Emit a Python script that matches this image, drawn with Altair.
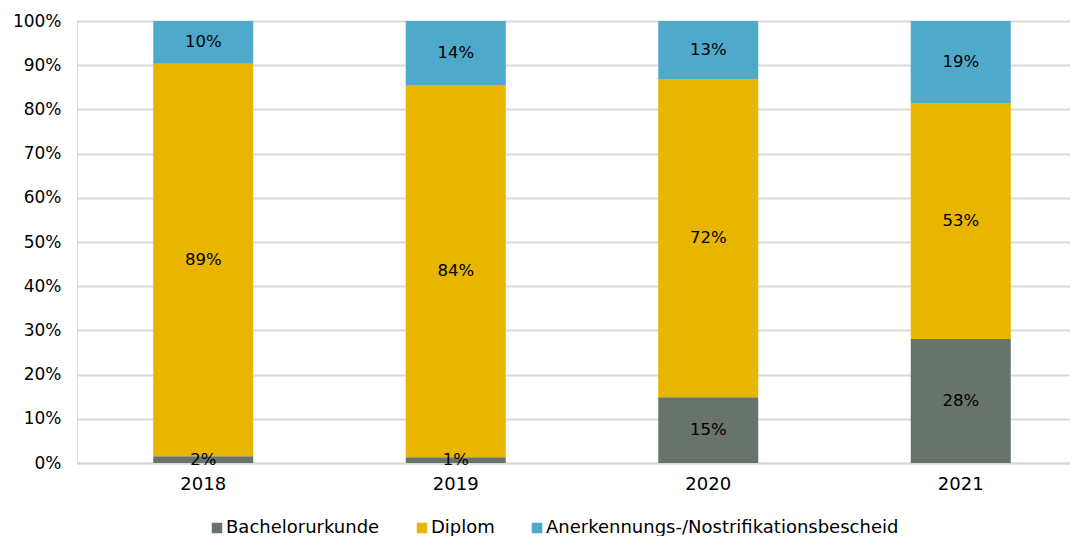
import altair as alt
import pandas as pd

years = ["2018", "2019", "2020", "2021"]
series = ["Bachelorurkunde", "Diplom", "Anerkennungs-/Nostrifikationsbescheid"]
bachelor = [0.015, 0.013, 0.149, 0.2805]
diplom = [0.888, 0.842, 0.720, 0.534]
anerkennung = [0.097, 0.145, 0.131, 0.1855]
label_bachelor = ["2%", "1%", "15%", "28%"]
label_diplom = ["89%", "84%", "72%", "53%"]
label_anerkennung = ["10%", "14%", "13%", "19%"]
colors = ["#68736B", "#E8B500", "#4FA9CB"]
y_ticks = [0, 0.1, 0.2, 0.3, 0.4, 0.5, 0.6, 0.7, 0.8, 0.9, 1.0]

rows = []
for i, y in enumerate(years):
    for k, (vals, labs) in enumerate([(bachelor, label_bachelor), (diplom, label_diplom), (anerkennung, label_anerkennung)]):
        rows.append({"year": y, "series": series[k], "order": k, "value": vals[i], "label": labs[i]})
df = pd.DataFrame(rows)

FONT = "DejaVu Sans"

base = alt.Chart(df).transform_stack(
    stack="value", groupby=["year"], as_=["y0", "y1"], sort=[alt.SortField("order", order="ascending")]
).transform_calculate(mid="(datum.y0 + datum.y1) / 2")

xscale = alt.Scale(range=[0, 1010], paddingInner=0.604, paddingOuter=0.302)
yscale = alt.Scale(domain=[0, 1], nice=False)
xaxis = alt.Axis(labelAngle=0, ticks=False, domain=True, domainColor="#d9d9d9", domainWidth=2,
                 labelFont=FONT, labelFontSize=18, labelColor="#000000", labelPadding=12)
yaxis = alt.Axis(format=".0%", values=y_ticks, ticks=False, domain=False, labelOverlap=False,
                 grid=True, gridColor="#d9d9d9", gridWidth=2,
                 labelFont=FONT, labelFontSize=17, labelColor="#000000", labelPadding=16)

bars = base.mark_bar().encode(
    x=alt.X("year:N", title=None, scale=xscale, axis=xaxis),
    y=alt.Y("y0:Q", title=None, scale=yscale, axis=yaxis),
    y2="y1:Q",
    color=alt.Color("series:N", sort=series,
                    scale=alt.Scale(domain=series, range=colors),
                    legend=alt.Legend(title=None, orient="none", legendX=131, legendY=498, direction="horizontal",
                                      symbolType="square", symbolSize=110, symbolStrokeWidth=0,
                                      labelFont=FONT, labelFontSize=18, labelColor="#000000",
                                      columnPadding=33, labelOffset=0, labelLimit=0)),
    order=alt.Order("order:Q"),
)

text = base.mark_text(font=FONT, fontSize=16.5, color="#000000", baseline="middle").encode(
    x=alt.X("year:N", title=None, scale=xscale, axis=xaxis),
    y=alt.Y("mid:Q", title=None, scale=yscale, axis=yaxis),
    text="label:N",
)

chart = alt.layer(bars, text).properties(
    width=993, height=442,
    autosize=alt.AutoSizeParams(type="none"),
    padding={"left": 69, "top": 13, "right": 0, "bottom": 73},
).configure_view(strokeWidth=0, stroke="transparent").configure(background="#ffffff")

chart.save("out.html", embed_options={"renderer": "svg", "actions": False})
